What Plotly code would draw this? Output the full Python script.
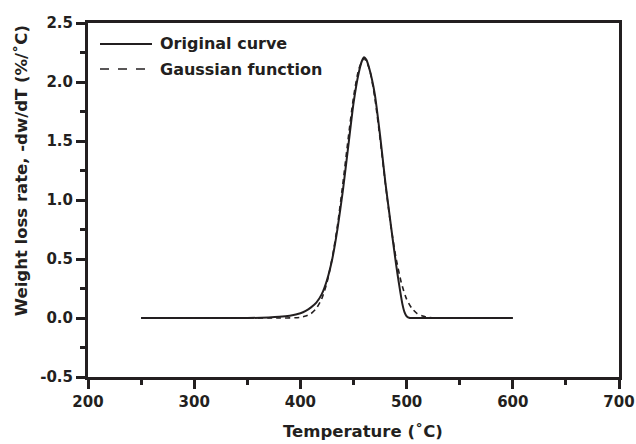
import plotly.graph_objects as go

# Original DTG curve
orig_T = [250, 300, 350, 370, 380, 390, 400, 405, 410, 415, 420, 425, 430, 435, 440, 445,
          450, 455, 458, 460, 462, 465, 470, 475, 480, 485, 490, 493, 496, 498, 500, 503, 510, 550, 600]
orig_Y = [0.0, 0.0, 0.0, 0.005, 0.01, 0.02, 0.04, 0.06, 0.09, 0.13, 0.2, 0.32, 0.5, 0.76, 1.08, 1.45,
          1.82, 2.08, 2.18, 2.21, 2.19, 2.11, 1.9, 1.55, 1.15, 0.8, 0.46, 0.28, 0.12, 0.05, 0.015, 0.0, 0.0, 0.0, 0.0]

# Gaussian fit
gauss_T = [250, 300, 350, 380, 395, 400, 405, 410, 415, 420, 425, 430, 435, 440, 445, 450, 455,
           460, 465, 470, 475, 480, 485, 490, 495, 500, 505, 510, 515, 520, 530, 550, 600]
gauss_Y = [0.0, 0.0, 0.0, 0.0, 0.002, 0.006, 0.016, 0.037, 0.081, 0.16, 0.30, 0.51, 0.79, 1.14, 1.52, 1.87, 2.11,
           2.2, 2.11, 1.87, 1.52, 1.14, 0.79, 0.51, 0.30, 0.16, 0.081, 0.037, 0.016, 0.006, 0.001, 0.0, 0.0]

x_ticks = [200, 300, 400, 500, 600, 700]
y_ticks = [-0.5, 0.0, 0.5, 1.0, 1.5, 2.0, 2.5]
series_names = ["Original curve", "Gaussian function"]

INK = "#231f20"
FONT = "DejaVu Sans"

fig = go.Figure()
fig.add_trace(go.Scatter(x=orig_T, y=orig_Y, mode="lines", name=series_names[0], showlegend=False,
                         line=dict(color=INK, width=2, shape="spline", smoothing=0.6)))
fig.add_trace(go.Scatter(x=gauss_T, y=gauss_Y, mode="lines", name=series_names[1], showlegend=False,
                         line=dict(color=INK, width=1.6, dash="5px,4px", shape="spline", smoothing=0.6)))

axis_common = dict(showgrid=False, zeroline=False, showline=True, linecolor=INK, linewidth=3,
                   mirror=True, ticks="outside", ticklen=9, tickwidth=2.5, tickcolor=INK,
                   automargin=False,
                   tickfont=dict(family=FONT, size=15, color=INK, weight="bold"))

fig.update_xaxes(range=[200, 700], tickvals=x_ticks, ticktext=[str(v) for v in x_ticks],
                 minor=dict(ticks="outside", ticklen=5, tickwidth=2.5, tickcolor=INK, dtick=50, showgrid=False),
                 **axis_common)
fig.update_yaxes(range=[-0.5, 2.5], tickvals=y_ticks, ticktext=[f"{v:.1f}" for v in y_ticks],
                 minor=dict(ticks="outside", ticklen=5, tickwidth=2.5, tickcolor=INK, dtick=0.25, showgrid=False),
                 **axis_common)

fig.add_annotation(text="Temperature (˚C)", xref="paper", yref="paper", x=0.518, y=-0.153,
                   xanchor="center", yanchor="middle", showarrow=False,
                   font=dict(family=FONT, size=16.5, color=INK, weight="bold"))
fig.add_annotation(text="Weight loss rate, -dw/dT (%/˚C)", xref="paper", yref="paper", x=-0.124, y=0.582,
                   xanchor="center", yanchor="middle", textangle=-90, showarrow=False,
                   font=dict(family=FONT, size=16.5, color=INK, weight="bold"))

# custom legend (longer line samples, as in the reference)
legend_rows = [(0.9407, "solid", 2), (0.870, "dash", 1.6)]
for (ly, dash, w), name in zip(legend_rows, series_names):
    fig.add_shape(type="line", xref="paper", yref="paper", x0=0.0226, x1=0.1205, y0=ly, y1=ly,
                  line=dict(color=INK, width=w, dash=dash))
    fig.add_annotation(text=name, xref="paper", yref="paper", x=0.1318, y=ly,
                       xanchor="left", yanchor="middle", showarrow=False,
                       font=dict(family=FONT, size=16, color=INK, weight="bold"))

fig.update_layout(
    width=636, height=444,
    margin=dict(l=88, r=17, t=23, b=67, autoexpand=False),
    paper_bgcolor="white", plot_bgcolor="white",
    showlegend=False,
)

fig.write_html("out.html")
